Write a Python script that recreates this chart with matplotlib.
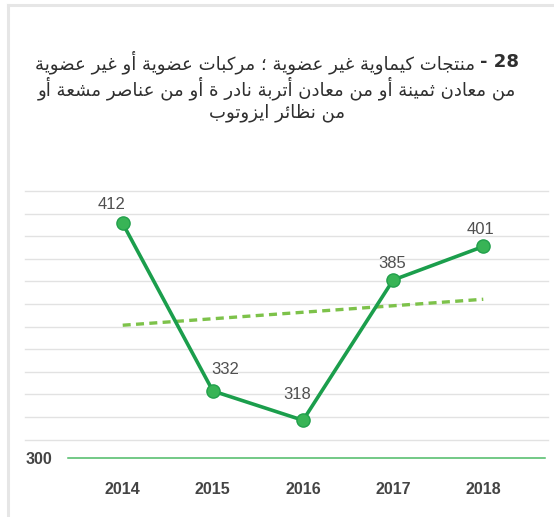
import numpy as np
import matplotlib
matplotlib.use("Agg")
import matplotlib.pyplot as plt
from matplotlib.lines import Line2D

plt.rcParams['font.family'] = ['Liberation Sans', 'DejaVu Sans']

# ---------------- data ----------------
years = ['2014', '2015', '2016', '2017', '2018']
values = [412, 332, 318, 385, 401]
y_tick_values = [300]
y_tick_labels = ['300']
title_number = "28 -"
title_lines = [
    "منتجات كيماوية غير عضوية ؛ مركبات عضوية أو غير عضوية",
    "من معادن ثمينة أو من معادن أتربة نادر ة أو من عناصر مشعة أو",
    "من نظائر ايزوتوب",
]
# label offsets (pixels) relative to the points
label_offsets = [(-11, 19), (12, 21), (-6, 26), (-1, 17), (-3, 17)]

# ---------------- Arabic shaping (matplotlib has no shaping engine) ----------------
FORMS = {  # isolated, final, initial, medial
    'ا': ('\uFE8D', '\uFE8E', None, None),
    'أ': ('\uFE83', '\uFE84', None, None),
    'ة': ('\uFE93', '\uFE94', None, None),
    'د': ('\uFEA9', '\uFEAA', None, None),
    'ر': ('\uFEAD', '\uFEAE', None, None),
    'ز': ('\uFEAF', '\uFEB0', None, None),
    'و': ('\uFEED', '\uFEEE', None, None),
    'ئ': ('\uFE89', '\uFE8A', '\uFE8B', '\uFE8C'),
    'ب': ('\uFE8F', '\uFE90', '\uFE91', '\uFE92'),
    'ت': ('\uFE95', '\uFE96', '\uFE97', '\uFE98'),
    'ث': ('\uFE99', '\uFE9A', '\uFE9B', '\uFE9C'),
    'ج': ('\uFE9D', '\uFE9E', '\uFE9F', '\uFEA0'),
    'ش': ('\uFEB5', '\uFEB6', '\uFEB7', '\uFEB8'),
    'ص': ('\uFEB9', '\uFEBA', '\uFEBB', '\uFEBC'),
    'ض': ('\uFEBD', '\uFEBE', '\uFEBF', '\uFEC0'),
    'ظ': ('\uFEC5', '\uFEC6', '\uFEC7', '\uFEC8'),
    'ع': ('\uFEC9', '\uFECA', '\uFECB', '\uFECC'),
    'غ': ('\uFECD', '\uFECE', '\uFECF', '\uFED0'),
    'ك': ('\uFED9', '\uFEDA', '\uFEDB', '\uFEDC'),
    'م': ('\uFEE1', '\uFEE2', '\uFEE3', '\uFEE4'),
    'ن': ('\uFEE5', '\uFEE6', '\uFEE7', '\uFEE8'),
    'ي': ('\uFEF1', '\uFEF2', '\uFEF3', '\uFEF4'),
}


def dual(c):
    return c in FORMS and FORMS[c][2] is not None


def shape_word(word):
    out = []
    n = len(word)
    for i, c in enumerate(word):
        if c not in FORMS:
            out.append(c)
            continue
        prev_c = word[i - 1] if i > 0 else None
        next_c = word[i + 1] if i < n - 1 else None
        jp = prev_c is not None and dual(prev_c)
        jn = dual(c) and next_c is not None and next_c in FORMS
        iso, fin, ini, med = FORMS[c]
        if jp and jn:
            out.append(med)
        elif jp:
            out.append(fin)
        elif jn:
            out.append(ini)
        else:
            out.append(iso)
    return ''.join(out)


def visual(line):
    toks = line.split(' ')
    res = []
    for t in reversed(toks):
        if any(ch in FORMS for ch in t):
            res.append(shape_word(t)[::-1])
        else:
            res.append(t)
    return ' '.join(res)


# ---------------- figure ----------------
W, H = 554, 517
fig = plt.figure(figsize=(W / 100, H / 100), dpi=100)
fig.patch.set_facecolor('white')

# card border (top and left)
fig.add_artist(Line2D([8 / W, 1], [1 - 5 / H, 1 - 5 / H], transform=fig.transFigure,
                      color='#e6e6e6', lw=2.2))
fig.add_artist(Line2D([8 / W, 8 / W], [0, 1 - 5 / H], transform=fig.transFigure,
                      color='#e6e6e6', lw=2.2))

ax_left, ax_right, ax_top, ax_bottom = 25, 548, 191, 458
ax = fig.add_axes([ax_left / W, 1 - ax_bottom / H, (ax_right - ax_left) / W,
                   (ax_bottom - ax_top) / H])
x = np.arange(len(years))
ax.set_xlim(-1.084, 4.718)
ax.set_ylim(300, 427.5)
for s in ax.spines.values():
    s.set_visible(False)

# horizontal grid lines
gap = 22.6 / (ax_bottom - ax_top)
for k in range(12):
    yy = 1 - k * gap
    ax.plot([0, 1], [yy, yy], transform=ax.transAxes, color='#e2e2e2', lw=1.0,
            zorder=0.5, clip_on=False)

# baseline
ax.axhline(300, xmin=0.082, xmax=0.994, color='#4dbb66', lw=1.1, zorder=2, clip_on=False)

# trend line
coef = np.polyfit(x, values, 1)
xe = np.array([x[0], x[-1]])
ax.plot(xe, np.polyval(coef, xe), color='#7dc24a', lw=2.4, ls=(0, (2.4, 1.6)),
        dash_capstyle='butt', zorder=2.5)

# main line
ax.plot(x, values, color='#1b9e4c', lw=2.6, marker='o', ms=9.5, mfc='#38b456',
        mec='#22a04c', mew=1.0, zorder=3, solid_capstyle='round')

for xi, v, (dx, dy) in zip(x, values, label_offsets):
    ax.annotate(str(v), (xi, v), xytext=(dx, dy), textcoords='offset pixels',
                ha='center', va='center', fontsize=12, color='#505050', zorder=4)

ax.set_xticks(x)
ax.set_xticklabels(years, fontweight='bold')
ax.set_yticks(y_tick_values)
ax.set_yticklabels(y_tick_labels, fontweight='bold')
ax.tick_params(axis='x', length=0, pad=17, labelsize=11.5, labelcolor='#444444')
ax.tick_params(axis='y', length=0, pad=-20, labelsize=11.5, labelcolor='#444444')

# ---------------- title ----------------
tsize = 13.1
cx = 277
t_num = fig.text(0, 1 - 62 / H, '- 28' if title_number == "28 -" else title_number,
                 family='DejaVu Sans', weight='bold', fontsize=tsize, color='#2f2f2f',
                 ha='left', va='center')
t_l1 = fig.text(0, 1 - 62 / H, visual(title_lines[0]), family='DejaVu Sans',
                fontsize=tsize, color='#2f2f2f', ha='left', va='center')
fig.canvas.draw()
r = fig.canvas.get_renderer()
w_num = t_num.get_window_extent(r).width
w_l1 = t_l1.get_window_extent(r).width
sp = 5
left = cx - (w_num + sp + w_l1) / 2
t_l1.set_x(left / W)
t_num.set_x((left + w_l1 + sp) / W)

for i, (line, yp) in enumerate(zip(title_lines[1:], [88, 113])):
    fig.text(cx / W, 1 - yp / H, visual(line), family='DejaVu Sans', fontsize=tsize,
             color='#2f2f2f', ha='center', va='center')

fig.savefig('out.png', dpi=100, facecolor='white')
